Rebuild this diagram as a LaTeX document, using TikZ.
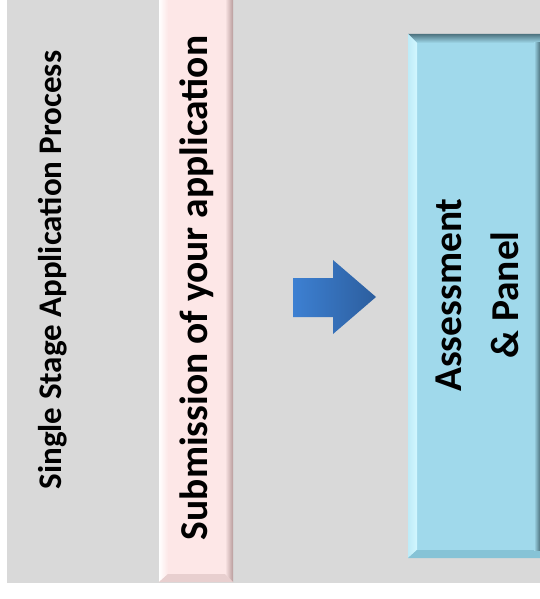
\documentclass[tikz,border=0pt]{standalone}
\usepackage{fontspec}
\setmainfont{Carlito}
\usetikzlibrary{positioning}
\definecolor{panelgray}{HTML}{D9D9D9}
\definecolor{subpink}{HTML}{FDE7E7}
\definecolor{subpinkedge}{HTML}{B89C9C}
\definecolor{subpinkbase}{HTML}{E8CFCF}
\definecolor{panelblue}{HTML}{A0D9EB}
\definecolor{panelbluelight}{HTML}{D2F7FF}
\definecolor{panelbluedark}{HTML}{4E7480}
\definecolor{panelbluebase}{HTML}{86C3D6}
\definecolor{arrowlight}{HTML}{3D80D2}
\definecolor{arrowdark}{HTML}{2C5E9E}
\tikzset{
    vtext/.style={rotate=90, font=\bfseries, text=black, inner sep=0pt}
}

\begin{document}
\begin{tikzpicture}[x=1pt, y=1pt]
                        \useasboundingbox (0, 0) rectangle (540, -599);
                        \fill[white] (0, 0) rectangle (540, -599);
                        \fill[panelgray] (7, 0) rectangle (540, -583);
                        \node[vtext, font=\fontsize{33}{36}\selectfont\bfseries] (title) at (53, -270) {Single Stage Application Process};
                        % submission box
                        \begin{scope}[shift={(159, 0)}]
                            \fill[subpink] (0, 0) rectangle (74, -582);
                            \shade[left color=white, right color=subpink] (0, 0) -- (9, 0) -- (9, -574) -- (0, -582) -- cycle;
                            \shade[left color=subpink, right color=subpinkedge] (74, 0) -- (66, 0) -- (66, -574) -- (74, -582) -- cycle;
                            \fill[subpinkbase] (0, -582) -- (9, -574) -- (66, -574) -- (74, -582) -- cycle;
                        \end{scope}
                        \node[vtext, font=\fontsize{39.5}{42}\selectfont\bfseries] (submission) at (197, -288) {Submission of your application};
                        % assessment box
                        \begin{scope}[shift={(408, -34)}]
                            \fill[panelblue] (0, 0) rectangle (140, -524);
                            \shade[top color=panelbluedark, bottom color=panelblue] (0, 0) -- (140, 0) -- (140, -9) -- (9, -9) -- cycle;
                            \shade[left color=panelbluelight!60!panelblue, right color=panelbluelight] (0, 0) -- (9, -9) -- (9, -516) -- (0, -524) -- cycle;
                            \fill[panelbluebase] (0, -524) -- (9, -516) -- (140, -516) -- (140, -524) -- cycle;
                            \shade[left color=panelblue, right color=panelbluedark] (126, -9) -- (132, -9) -- (132, -516) -- (126, -516) -- cycle;
                        \end{scope}
                        \node[vtext, align=center, font=\fontsize{39.5}{57}\selectfont\bfseries] (assessment) at (477, -295) {Assessment\\\& Panel};
                        % block arrow
                        \shade[left color=arrowlight, right color=arrowdark]
                        (293, -278) -- (333, -278) -- (333, -260) -- (376, -297) -- (333, -334) -- (333, -317) -- (293, -317) -- cycle;
                    \end{tikzpicture}
\end{document}
